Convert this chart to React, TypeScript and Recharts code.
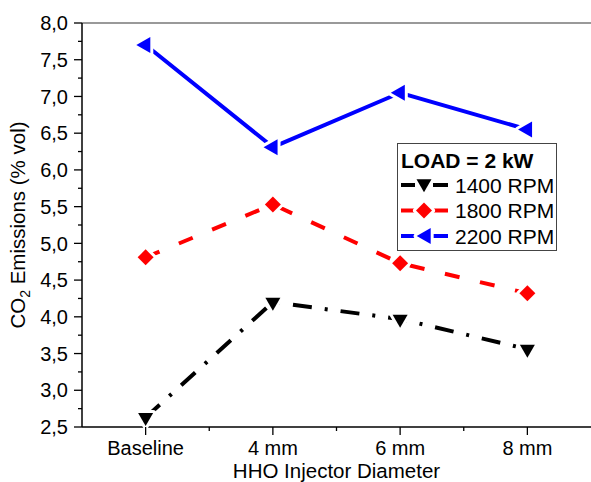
import React from 'react';
import { LineChart, Line, XAxis, YAxis, ReferenceLine } from 'recharts';

const categories = ['Baseline', '4 mm', '6 mm', '8 mm'];
const rpm1400 = [2.63, 4.2, 3.97, 3.56];
const rpm1800 = [4.81, 5.53, 4.73, 4.32];
const rpm2200 = [7.7, 6.31, 7.05, 6.55];
const seriesNames = ['1400 RPM', '1800 RPM', '2200 RPM'];
const legendTitle = 'LOAD = 2 kW';
const yTicks = [2.5, 2.75, 3, 3.25, 3.5, 3.75, 4, 4.25, 4.5, 4.75, 5, 5.25, 5.5, 5.75, 6, 6.25, 6.5, 6.75, 7, 7.25, 7.5, 7.75, 8];
const xTicks = [0, 0.5, 1, 1.5, 2, 2.5, 3];
const xLabel = 'HHO Injector Diameter';

const data = categories.map((c, i) => ({
  x: i,
  name: c,
  r1400: rpm1400[i],
  r1800: rpm1800[i],
  r2200: rpm2200[i],
}));

const FONT = 'Arial, "Liberation Sans", sans-serif';
const TS = 8;
const TM_Y = 6;
const TM_X = 8;

const isMajor = (v: number) => Math.abs(v * 2 - Math.round(v * 2)) < 1e-6;
const isInt = (v: number) => Math.abs(v - Math.round(v)) < 1e-6;

const YTick = (props: any) => {
  const { x, y, payload } = props;
  const v = payload.value;
  const major = isMajor(v);
  const ax = x + TM_Y + TS;
  return (
    <g>
      <line x1={ax - (major ? 8 : 4)} x2={ax} y1={y} y2={y} stroke="#000" strokeWidth={1.3} />
      {major && (
        <text x={x} y={y} dy="0.36em" textAnchor="end" fontSize={20} fontFamily={FONT} fill="#000">
          {v.toFixed(1).replace('.', ',')}
        </text>
      )}
    </g>
  );
};

const XTick = (props: any) => {
  const { x, y, payload } = props;
  const v = payload.value;
  const major = isInt(v);
  const ay = y - TM_X - TS;
  return (
    <g>
      <line x1={x} x2={x} y1={ay} y2={ay + (major ? 8 : 4)} stroke="#000" strokeWidth={1.3} />
      {major && (
        <text x={x} y={ay + 14} dy="0.71em" textAnchor="middle" fontSize={20} fontFamily={FONT} fill="#000">
          {categories[Math.round(v)]}
        </text>
      )}
    </g>
  );
};

const DownTri = (props: any) => {
  const { cx, cy } = props;
  if (cx == null || cy == null) return null;
  const h = 13, w = 15;
  const pts = `${cx - w / 2},${cy - h / 3} ${cx + w / 2},${cy - h / 3} ${cx},${cy + (2 * h) / 3}`;
  return <polygon points={pts} fill="#000" stroke="#fff" strokeWidth={6} paintOrder="stroke" strokeLinejoin="round" />;
};

const Diamond = (props: any) => {
  const { cx, cy } = props;
  if (cx == null || cy == null) return null;
  const r = 8;
  const pts = `${cx},${cy - r} ${cx + r},${cy} ${cx},${cy + r} ${cx - r},${cy}`;
  return <polygon points={pts} fill="#ff0000" stroke="#fff" strokeWidth={6} paintOrder="stroke" strokeLinejoin="round" />;
};

const LeftTri = (props: any) => {
  const { cx, cy } = props;
  if (cx == null || cy == null) return null;
  const w = 14, h = 16;
  const pts = `${cx - (2 * w) / 3},${cy} ${cx + w / 3},${cy - h / 2} ${cx + w / 3},${cy + h / 2}`;
  return <polygon points={pts} fill="#0000ff" stroke="#fff" strokeWidth={6} paintOrder="stroke" strokeLinejoin="round" />;
};

const YLabel = (props: any) => {
  const vb = props.viewBox || { x: 0, y: 23, width: 82, height: 404 };
  const cy = vb.y + vb.height / 2;
  return (
    <text transform={`translate(24.5, ${cy}) rotate(-90)`} textAnchor="middle" fontSize={20.5} fontFamily={FONT} fill="#000">
      CO<tspan fontSize={14} dy={5}>2</tspan>
      <tspan dy={-5}> Emissions (% vol)</tspan>
    </text>
  );
};

const XLabel = (props: any) => {
  const vb = props.viewBox || { x: 82, y: 427, width: 509, height: 55 };
  return (
    <text x={vb.x + vb.width / 2} y={vb.y + 51} textAnchor="middle" fontSize={20.5} fontFamily={FONT} fill="#000">
      {xLabel}
    </text>
  );
};

const legendColors = ['#000000', '#ff0000', '#0000ff'];

const LegendBox = () => (
  <div
    style={{
      position: 'absolute',
      left: 397,
      top: 143,
      width: 158,
      height: 106,
      border: '1.4px solid #444',
      background: '#fff',
    }}
  >
    <svg width={158} height={106} style={{ display: 'block' }}>
      <text x={3} y={16} dy="0.36em" fontSize={21} fontWeight="bold" fontFamily={FONT} fill="#000">
        {legendTitle}
      </text>
      {seriesNames.map((n, i) => {
        const y = 41 + i * 25.5;
        const c = legendColors[i];
        return (
          <g key={n}>
            <line x1={3} x2={17} y1={y} y2={y} stroke={c} strokeWidth={4} />
            <line x1={35} x2={50} y1={y} y2={y} stroke={c} strokeWidth={4} />
            {i === 0 && <DownTri cx={26} cy={y - 1.5} />}
            {i === 1 && <Diamond cx={26} cy={y} />}
            {i === 2 && <LeftTri cx={28} cy={y} />}
            <text x={57} y={y} dy="0.36em" fontSize={21} fontFamily={FONT} fill="#000">
              {n}
            </text>
          </g>
        );
      })}
    </svg>
  </div>
);

export default function App() {
  return (
    <div style={{ position: 'absolute', left: 0, top: 0, width: 591, height: 482, background: '#fff' }}>
      <LineChart width={591} height={482} data={data} margin={{ top: 23, right: 0, left: 0, bottom: 0 }}>
        <ReferenceLine y={8} stroke="#777" strokeWidth={1.7} ifOverflow="extendDomain" />
        <XAxis
          dataKey="x"
          type="number"
          domain={[-0.5, 3.5]}
          ticks={xTicks}
          interval={0}
          height={55}
          tickSize={TS}
          tickMargin={TM_X}
          tickLine={false}
          tick={<XTick />}
          axisLine={{ stroke: '#000', strokeWidth: 1.5 }}
          label={<XLabel />}
        />
        <YAxis
          type="number"
          domain={[2.5, 8]}
          ticks={yTicks}
          interval={0}
          width={82}
          tickSize={TS}
          tickMargin={TM_Y}
          tickLine={false}
          tick={<YTick />}
          axisLine={{ stroke: '#000', strokeWidth: 1.5 }}
          label={<YLabel />}
        />
        <Line
          dataKey="r1400"
          stroke="#000"
          strokeWidth={4}
          strokeDasharray="19 13 3 13"
          dot={<DownTri />}
          activeDot={false}
          isAnimationActive={false}
        />
        <Line
          dataKey="r1800"
          stroke="#ff0000"
          strokeWidth={4}
          strokeDasharray="15 21"
          dot={<Diamond />}
          activeDot={false}
          isAnimationActive={false}
        />
        <Line
          dataKey="r2200"
          stroke="#0000ff"
          strokeWidth={4}
          dot={<LeftTri />}
          activeDot={false}
          isAnimationActive={false}
        />
      </LineChart>
      <LegendBox />
    </div>
  );
}
